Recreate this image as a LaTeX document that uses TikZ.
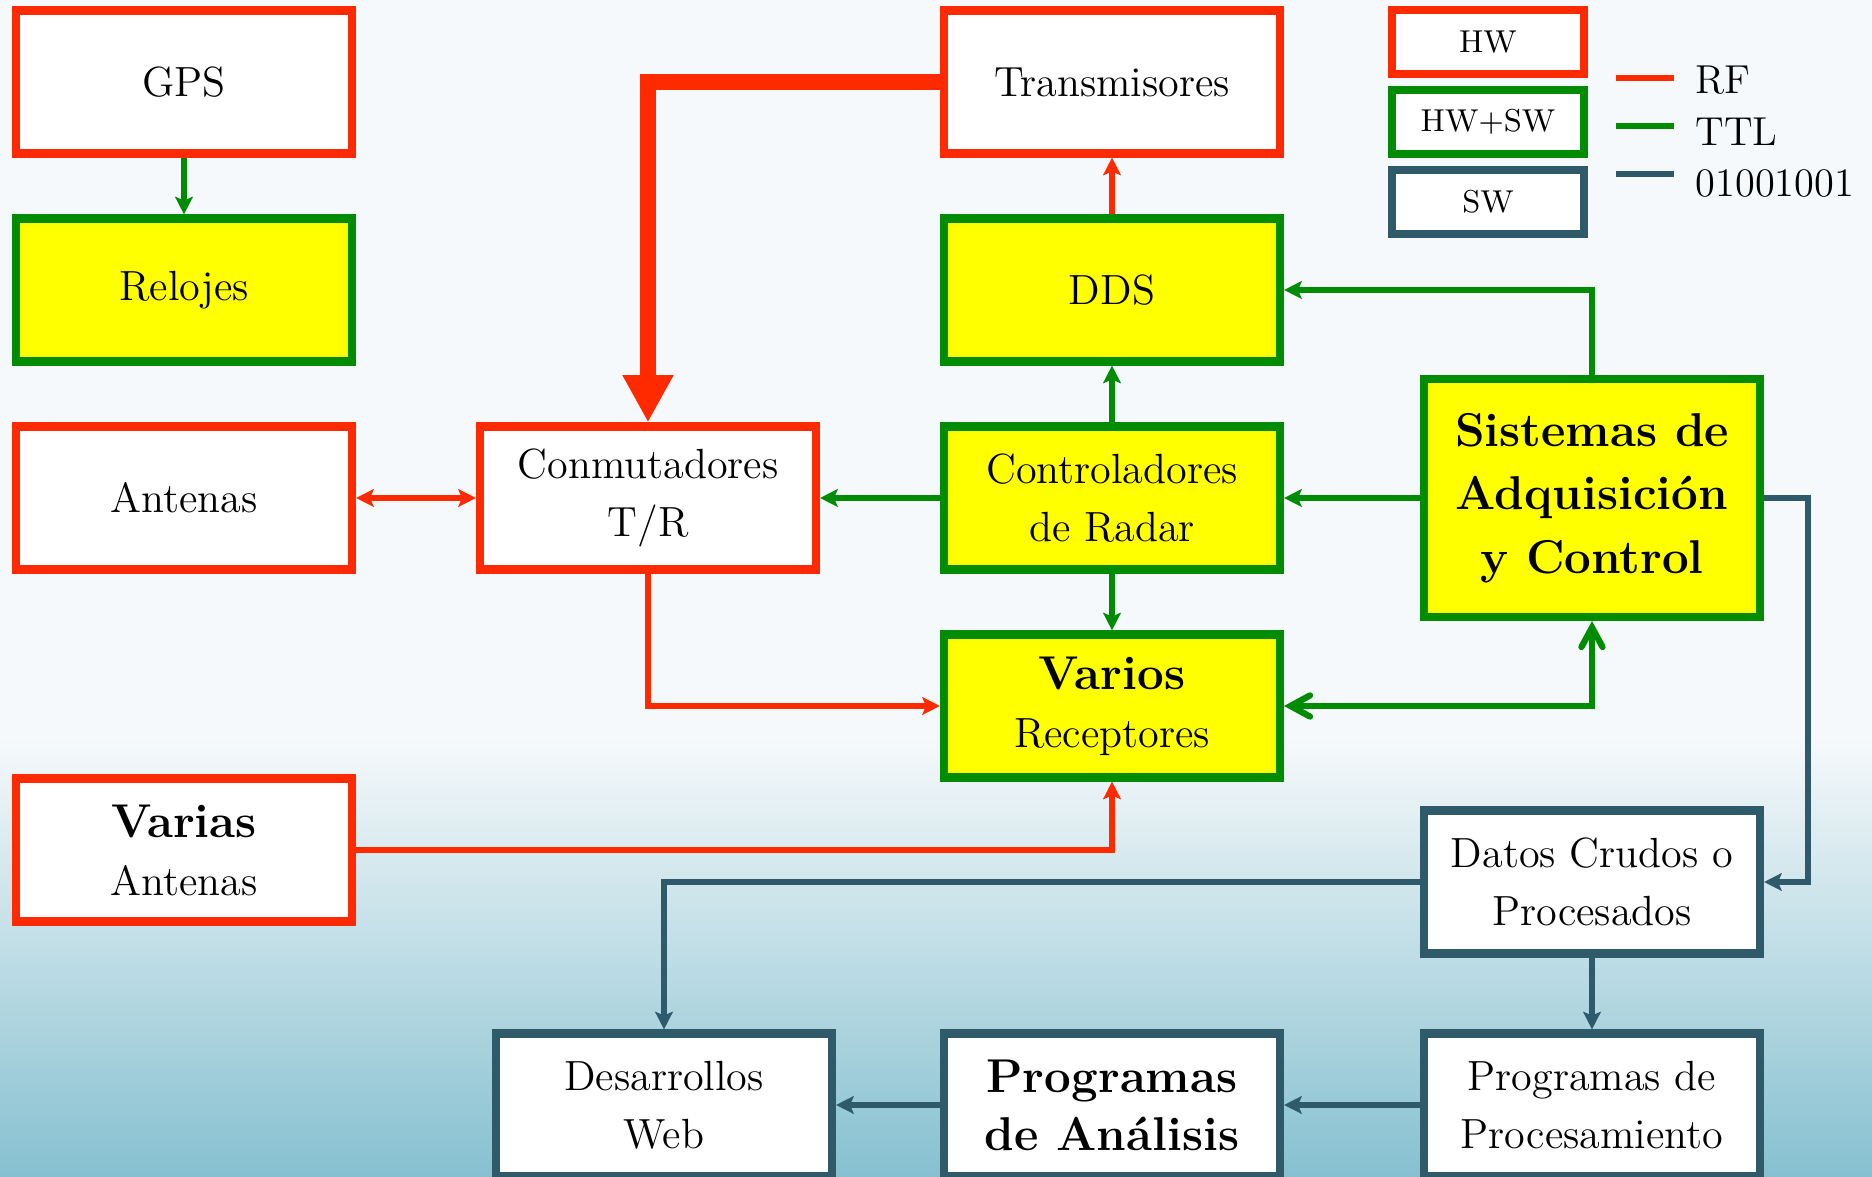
\documentclass[tikz,border=0pt]{standalone}
\usepackage{fontspec}
\usepackage{xcolor}
\usepackage{tikz}
\usetikzlibrary{arrows.meta,positioning}
\definecolor{rfred}{HTML}{FF2A00}
\definecolor{ttlgreen}{HTML}{008C00}
\definecolor{swslate}{HTML}{2F5A6A}
\definecolor{boxyellow}{HTML}{FFFF00}
\definecolor{bgtop}{HTML}{F6F9FB}
\definecolor{bgmid}{HTML}{DDECF1}
\definecolor{bgbot}{HTML}{86C0D0}
\newcommand{\bigbold}{\fontsize{13.5}{16.5}\selectfont\bfseries}

\begin{document}
\begin{tikzpicture}[
    >={Stealth[length=5pt,width=5pt,inset=1pt]},
    blockbox/.style={line width=2.3pt, minimum width=3.36cm, minimum height=1.43cm,
      align=center, inner sep=2pt, font=\fontsize{12}{16.5}\selectfont},
    hwbox/.style={blockbox, draw=rfred, fill=white},
    hwswbox/.style={blockbox, draw=ttlgreen, fill=boxyellow},
    swbox/.style={blockbox, draw=swslate, fill=white},
    legbox/.style={line width=2.3pt, minimum width=1.92cm, minimum height=0.64cm,
      fill=white, font=\fontsize{9}{10}\selectfont},
    rfline/.style={draw=rfred, line width=1.7pt},
    rfbig/.style={draw=rfred, line width=4.5pt, -{Triangle[length=13.5pt,width=13.6pt]}},
    ttlline/.style={draw=ttlgreen, line width=1.6pt},
    ttlopen/.style={draw=ttlgreen, line width=1.8pt,
      {Straight Barb[length=5.5pt,width=6pt,line cap=round]}-{Straight Barb[length=5.5pt,width=6pt,line cap=round]}},
    bitline/.style={draw=swslate, line width=1.6pt},
  ]
  \useasboundingbox (0,0) rectangle (18.72,11.77);
  % background
  \fill[bgtop] (0,0) rectangle (18.72,11.77);
  \shade[top color=bgtop, middle color=bgmid, bottom color=bgbot] (0,0) rectangle (18.72,4.4);

  \path
  (1.84,10.95) node[hwbox](gps) {GPS}
  (1.84,8.87) node[hwswbox](relojes) {Relojes}
  (1.84,6.79) node[hwbox](antenas) {Antenas}
  (1.84,3.27) node[hwbox](varias) {{\bigbold Varias}\\Antenas}
  (6.48,6.79) node[hwbox](conm) {Conmutadores\\T/R}
  (11.12,10.95) node[hwbox](trans) {Transmisores}
  (11.12,8.87) node[hwswbox](dds) {DDS}
  (11.12,6.79) node[hwswbox](ctrl) {Controladores\\de Radar}
  (11.12,4.71) node[hwswbox](recep) {{\bigbold Varios}\\Receptores}
  (15.92,6.79) node[hwswbox, minimum height=2.38cm,
    font=\fontsize{13.5}{18}\selectfont\bfseries](sist) {Sistemas de\\Adquisición\\y Control}
  (15.92,2.95) node[swbox](datos) {Datos Crudos o\\Procesados}
  (15.92,0.72) node[swbox](proc) {Programas de\\Procesamiento}
  (11.12,0.72) node[swbox, font=\bigbold](anal) {Programas\\de Análisis}
  (6.64,0.72) node[swbox](web) {Desarrollos\\Web}
  ;
  \coordinate (swbend) at (18.08,6.79);

  % legend
  \path
  (14.88,11.35) node[legbox, draw=rfred](khw) {HW}
  (14.88,10.55) node[legbox, draw=ttlgreen](khwsw) {HW+SW}
  (14.88,9.75) node[legbox, draw=swslate](ksw) {SW}
  ;
  \draw[rfline] (16.16,10.99) -- ++(0.58,0);
  \draw[ttlline] (16.16,10.51) -- ++(0.58,0);
  \draw[bitline] (16.16,10.03) -- ++(0.58,0);
  \path[font=\fontsize{11.5}{12}\selectfont, inner sep=0pt]
  (16.95,10.83) node[anchor=base west](lrf) {RF}
  (16.95,10.31) node[anchor=base west](lttl) {TTL}
  (16.95,9.80) node[anchor=base west](lbits) {01001001}
  ;

  % RF
  \draw[rfbig] (trans.west) -| (conm.north);
  \draw[rfline,->] (dds) -- (trans);
  \draw[rfline,<->] (antenas) -- (conm);
  \draw[rfline,->] (conm.south) |- (recep.west);
  \draw[rfline,->] (varias.east) -| (recep.south);

  % TTL
  \draw[ttlline,->] (gps) -- (relojes);
  \draw[ttlline,->] (ctrl) -- (dds);
  \draw[ttlline,->] (ctrl) -- (conm);
  \draw[ttlline,->] (ctrl) -- (recep);
  \draw[ttlline,->] (sist) -- (ctrl);
  \draw[ttlline,->] (sist.north) |- (dds.east);
  \draw[ttlopen] (recep.east) -| (sist.south);

  % datos
  \draw[bitline,->] (sist.east) -- (swbend) |- (datos.east);
  \draw[bitline,->] (datos.west) -| (web.north);
  \draw[bitline,->] (datos) -- (proc);
  \draw[bitline,->] (proc) -- (anal);
  \draw[bitline,->] (anal) -- (web);
\end{tikzpicture}
\end{document}
